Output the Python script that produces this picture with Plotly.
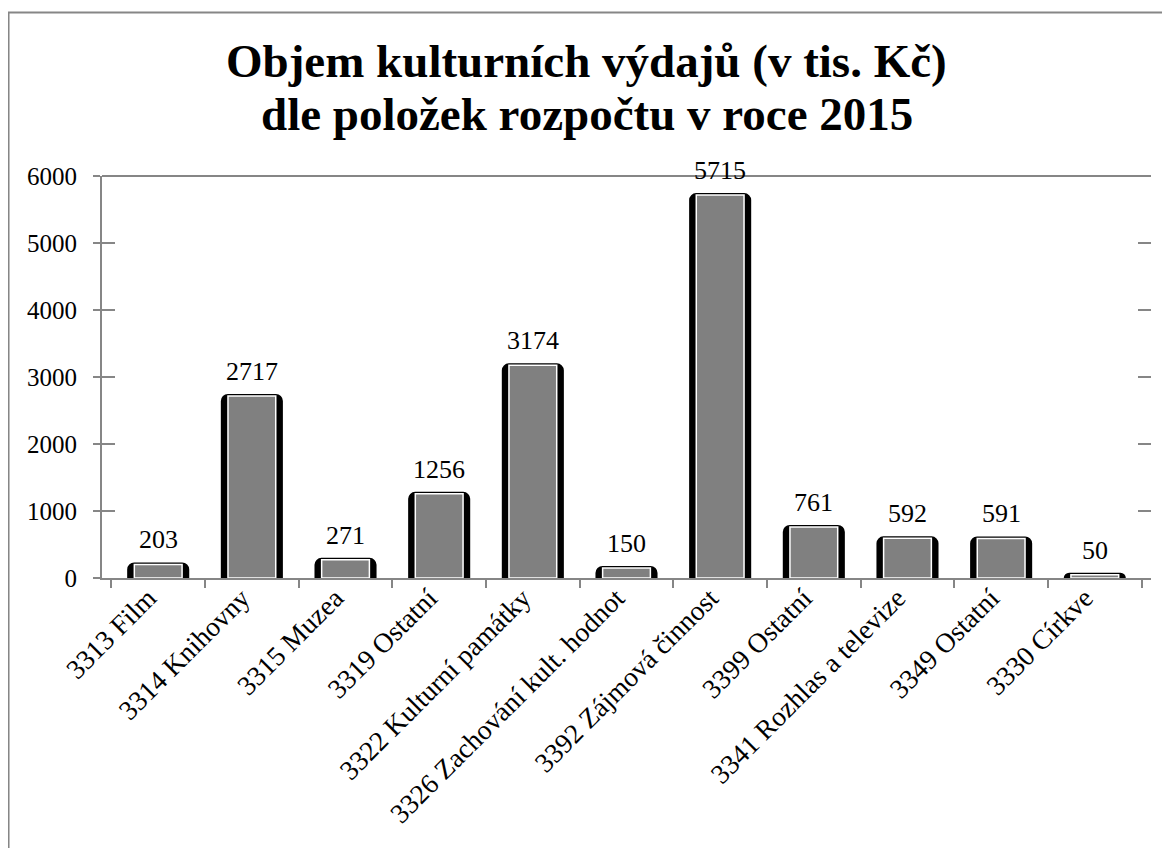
import plotly.graph_objects as go

categories = ["3313 Film", "3314 Knihovny", "3315 Muzea", "3319 Ostatní",
              "3322 Kulturní památky", "3326 Zachování kult. hodnot",
              "3392 Zájmová činnost", "3399 Ostatní", "3341 Rozhlas a televize",
              "3349 Ostatní", "3330 Církve"]
values = [203, 2717, 271, 1256, 3174, 150, 5715, 761, 592, 591, 50]
title_lines = ["Objem kulturních výdajů (v tis. Kč)", "dle položek rozpočtu v roce 2015"]

FONT = "Liberation Serif"
AXIS = "#868686"

fig = go.Figure()
# outer black rim
fig.add_trace(go.Bar(x=categories, y=values, width=0.62,
                     marker=dict(color="black", line=dict(color="black", width=4),
                                 cornerradius=5),
                     showlegend=False, hoverinfo="skip"))
# inner grey face with white edge
fig.add_trace(go.Bar(x=categories, y=values, width=0.51,
                     marker=dict(color="#808080", line=dict(color="white", width=1.5)),
                     showlegend=False, hoverinfo="skip"))
# invisible traces to activate mirror-tick axes
fig.add_trace(go.Scatter(x=categories, y=values, yaxis="y2", mode="markers",
                         marker=dict(opacity=0), showlegend=False, hoverinfo="skip"))
fig.add_trace(go.Scatter(x=categories, y=values, yaxis="y3", mode="markers",
                         marker=dict(opacity=0), showlegend=False, hoverinfo="skip"))

annotations = []
for c, v in zip(categories, values):
    annotations.append(dict(x=c, y=v, xref="x", yref="y", text=str(v), showarrow=False,
                            yanchor="bottom", yshift=8,
                            font=dict(family=FONT, size=26, color="black")))
annotations.append(dict(x=0.4623, y=1.286, xref="paper", yref="paper", text=title_lines[0],
                        showarrow=False, xanchor="center", yanchor="middle",
                        font=dict(family=FONT, size=47, color="black", weight="bold")))
annotations.append(dict(x=0.4623, y=1.154, xref="paper", yref="paper", text=title_lines[1],
                        showarrow=False, xanchor="center", yanchor="middle",
                        font=dict(family=FONT, size=47, color="black", weight="bold")))

yr = [0, 6000]
fig.update_layout(
    width=1162, height=840,
    margin=dict(l=94, r=19, t=168, b=270),
    paper_bgcolor="white", plot_bgcolor="white",
    barmode="overlay",
    font=dict(family=FONT, color="black"),
    xaxis=dict(showline=True, linecolor=AXIS, linewidth=2, ticks="outside",
               tickson="boundaries", ticklen=8, tickcolor=AXIS, tickwidth=2,
               tickangle=-45, tickfont=dict(family=FONT, size=27.5, color="black"),
               ticklabelshift=-10, ticklabelstandoff=-9,
               showgrid=False, automargin=False),
    yaxis=dict(range=yr, dtick=1000, showline=True, linecolor=AXIS, linewidth=2,
               ticks="outside", ticklen=7, tickcolor=AXIS, tickwidth=2,
               tickfont=dict(family=FONT, size=25, color="black"),
               ticklabelstandoff=11, showgrid=False, zeroline=False, automargin=False),
    yaxis2=dict(range=yr, dtick=1000, overlaying="y", side="right", anchor="x",
                ticks="inside", ticklen=13, tickcolor=AXIS, tickwidth=2,
                showticklabels=False, showline=False, showgrid=False, zeroline=False,
                automargin=False),
    yaxis3=dict(range=yr, dtick=1000, overlaying="y", side="left", anchor="x",
                ticks="inside", ticklen=13, tickcolor=AXIS, tickwidth=2,
                showticklabels=False, showline=False, showgrid=False, zeroline=False,
                automargin=False),
    annotations=annotations,
    shapes=[
        dict(type="line", xref="paper", yref="paper", x0=0, x1=1, y0=1, y1=1,
             line=dict(color=AXIS, width=2)),
        dict(type="rect", xref="paper", yref="paper", x0=-0.0891, x1=1.1,
             y0=-0.8, y1=1.4067, line=dict(color=AXIS, width=2)),
    ],
)

fig.write_html("out.html")
